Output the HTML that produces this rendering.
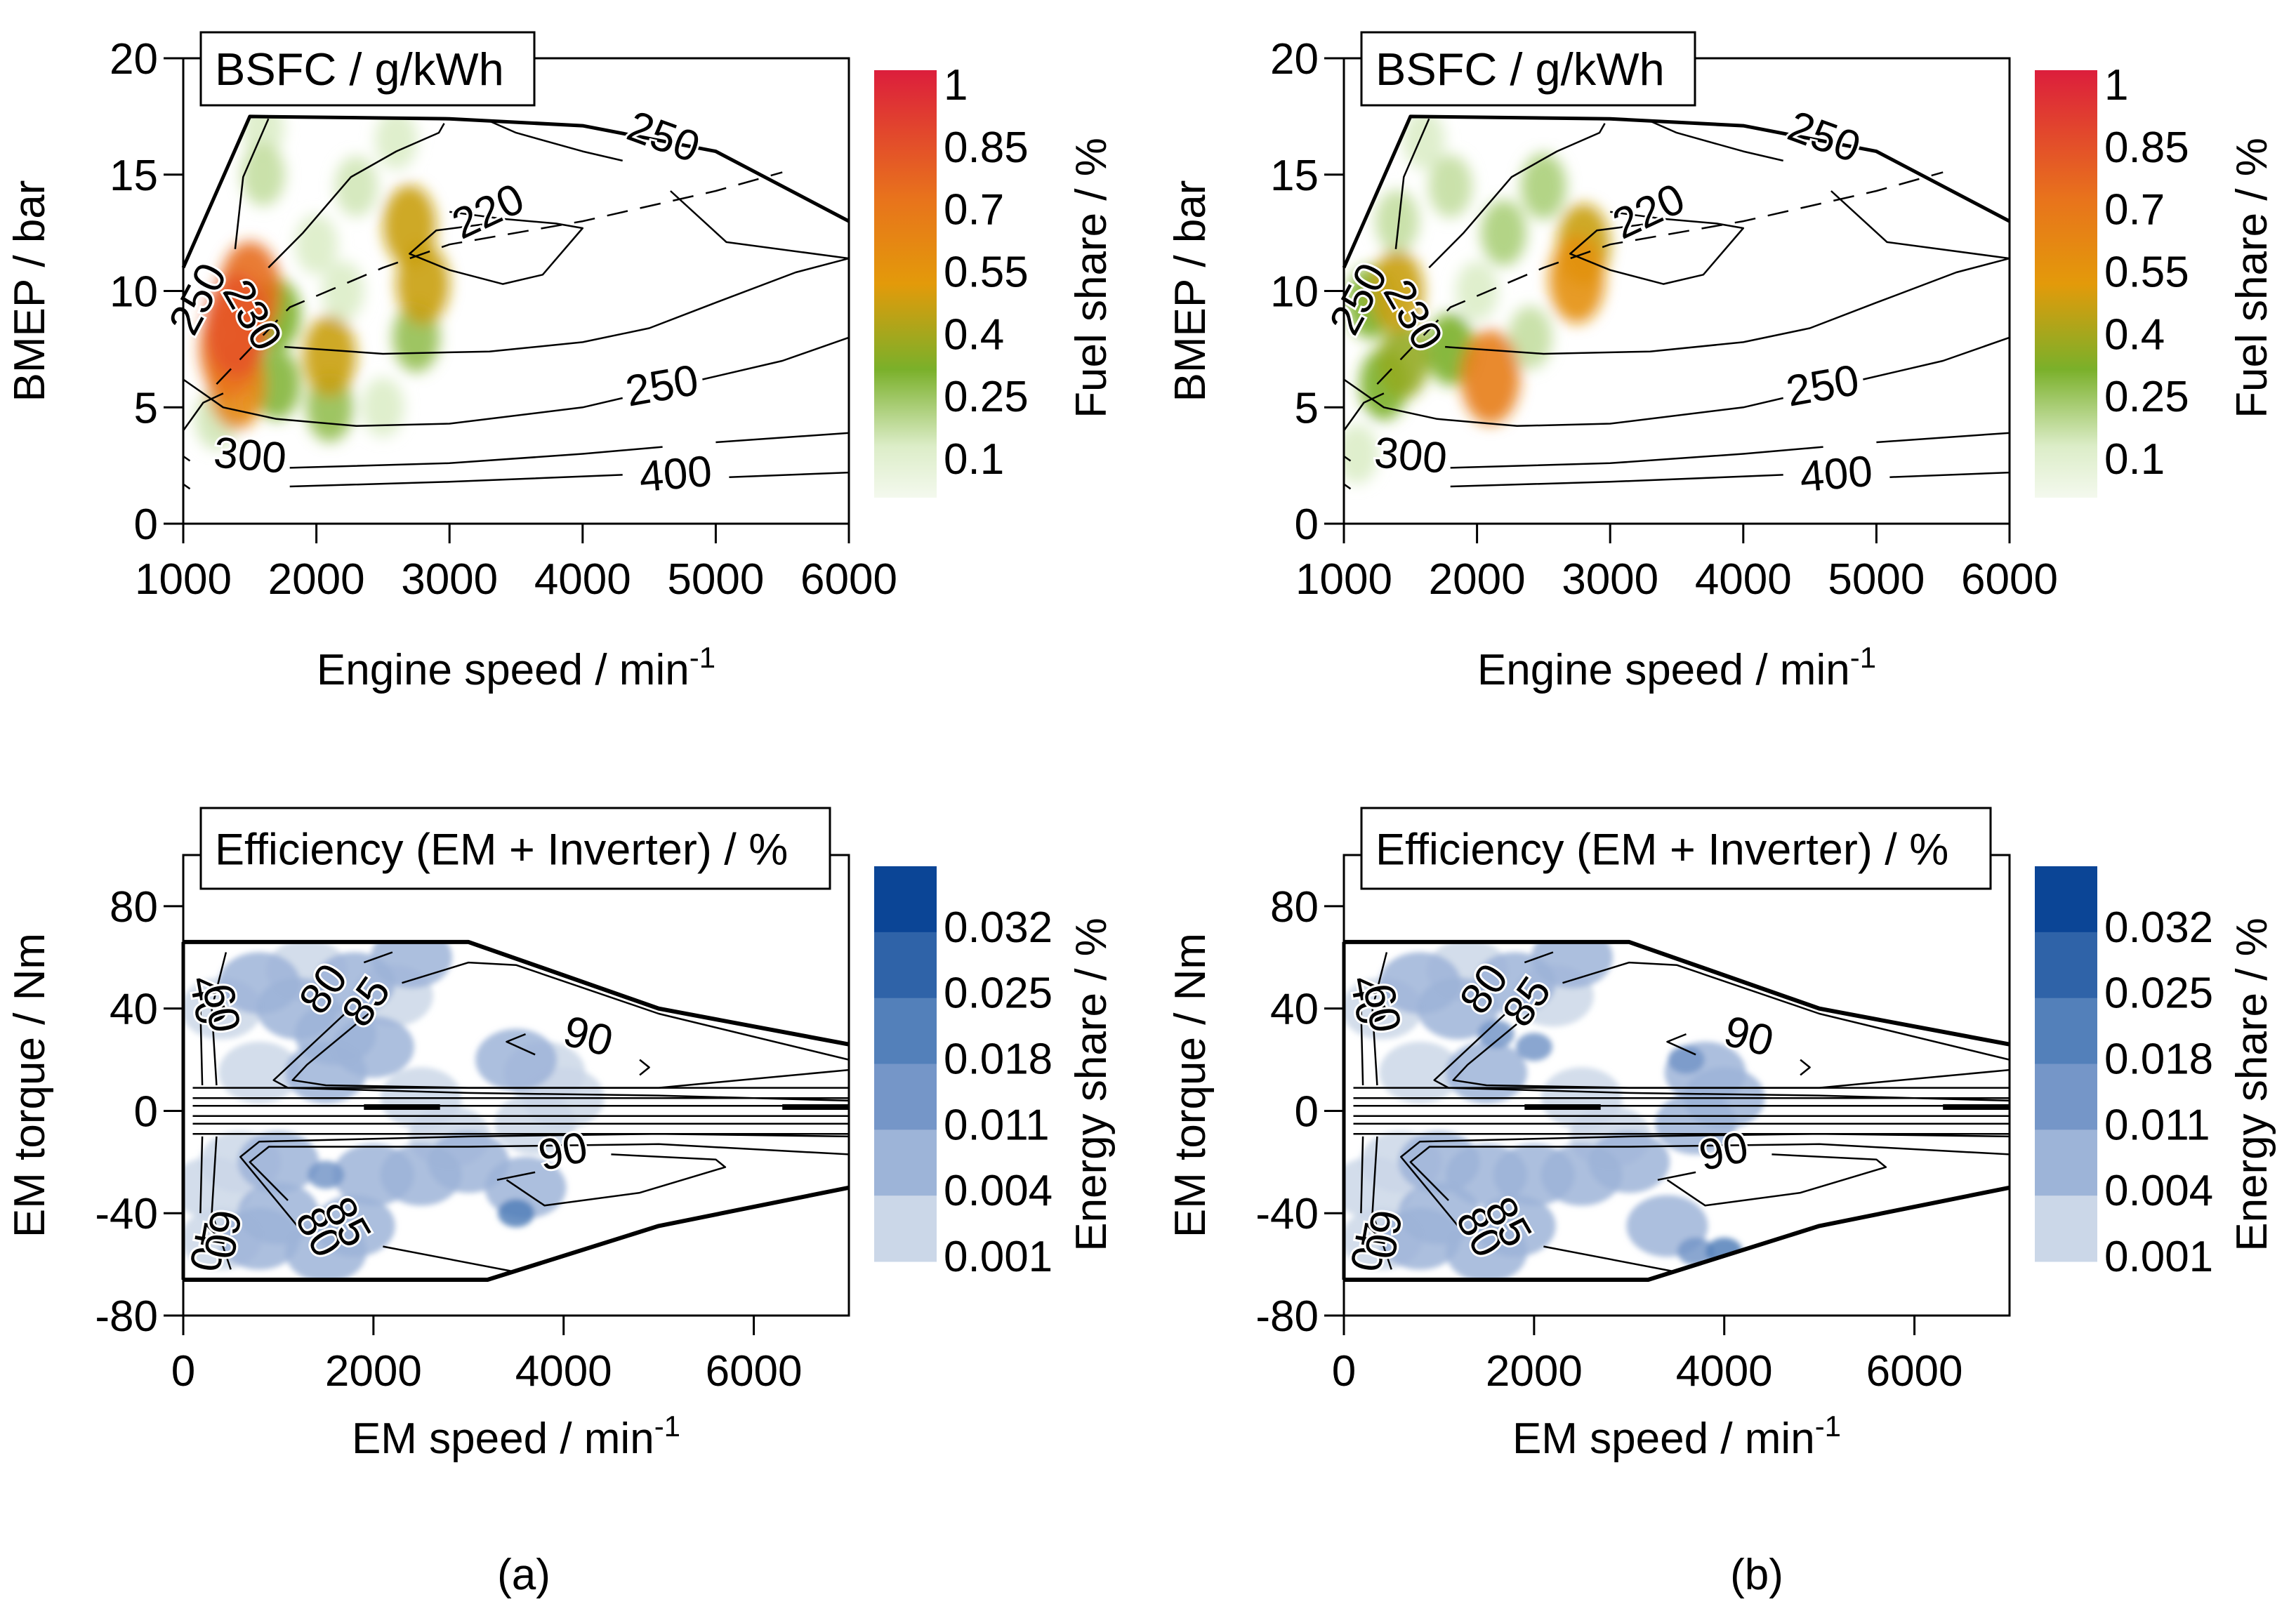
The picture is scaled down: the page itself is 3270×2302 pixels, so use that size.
<!DOCTYPE html>
<html><head><meta charset="utf-8">
<style>
html,body{margin:0;padding:0;background:#fff;}
svg{display:block;font-family:"Liberation Sans",Arial,sans-serif;}
</style></head>
<body>
<svg id="fig" width="3270" height="2302" viewBox="0 0 3270 2302" xmlns="http://www.w3.org/2000/svg">
<defs>
<filter id="blurT" x="-50%" y="-50%" width="200%" height="200%"><feGaussianBlur stdDeviation="10"/></filter>
<filter id="blurB" x="-50%" y="-50%" width="200%" height="200%"><feGaussianBlur stdDeviation="4"/></filter>
<linearGradient id="fuelGrad" x1="0" y1="1" x2="0" y2="0">
<stop offset="0" stop-color="#f4f9ee"/><stop offset="0.12" stop-color="#dcedc8"/><stop offset="0.3" stop-color="#7ab02a"/><stop offset="0.5" stop-color="#e39a0a"/><stop offset="0.7" stop-color="#e8731c"/><stop offset="1" stop-color="#dc1e3c"/>
</linearGradient>
</defs>
<g id="root"></g>
<text x="746" y="2264" font-size="62" text-anchor="middle">(a)</text>
<text x="2502" y="2264" font-size="62" text-anchor="middle">(b)</text>
</svg>
<script>
const NS="http://www.w3.org/2000/svg";
// ---- data ----
const bsfcXTicks=[1000,2000,3000,4000,5000,6000];
const bsfcYTicks=[0,5,10,15,20];
const fuelTicks=[1,0.85,0.7,0.55,0.4,0.25,0.1];
const emXTicks=[0,2000,4000,6000];
const emYTicks=[80,40,0,-40,-80];
const energyTicks=[0.032,0.025,0.018,0.011,0.004,0.001];
const fullLoad=[[1000,11],[1500,17.5],[3000,17.4],[4000,17.1],[5000,16],[6000,13]];
const c250low=[[1000,6.2],[1300,5.0],[1700,4.5],[2300,4.2],[3000,4.3],[4000,5.0],[4300,5.4]];
const c250lowR=[[4900,6.2],[5500,7.0],[6000,8.0]];
const c250up=[[1390,11.8],[1450,14.9],[1640,17.4]];
const c250top=[[3300,17.3],[3500,16.8],[4000,16.0],[4300,15.6]];
const c230=[[1760,7.6],[2500,7.3],[3300,7.4],[4000,7.8],[4500,8.4],[5000,9.5],[5600,10.8],[6000,11.4]];
const c230up=[[1640,11],[1900,12.5],[2260,14.9],[2600,16],[2920,16.8],[2960,17.2]];
const c230b=[[4660,14.3],[5080,12.1],[6000,11.4]];
const c220=[[3000,13.4],[3400,13.1],[3800,12.9],[4000,12.7],[3700,10.7],[3400,10.3],[3000,10.9],[2700,11.6],[2900,12.6],[3300,12.9]];
const dashOpt=[[1250,6],[1800,9.3],[2500,11],[3000,12],[4000,13],[5000,14.3],[5500,15.1]];
const c300=[[1800,2.4],[3000,2.6],[4000,3.0],[4600,3.3]];
const c300r=[[5000,3.5],[6000,3.9]];
const c400=[[1800,1.6],[3000,1.8],[4300,2.1]];
const c400r=[[5100,2.0],[6000,2.2]];
const cLeft=[[1000,4],[1150,5.2],[1300,5.6]];
const cLeft2=[[1000,2.9],[1050,2.7]];
const cLeft3=[[1000,1.7],[1050,1.5]];
const fuelBlobsA=[[1400,8.5,0.8],[1400,6,0.6],[1500,10,0.72],[1350,7.5,0.7],[1700,9,0.3],[1700,6,0.28],[2100,7.2,0.45],[2100,5.0,0.25],[1600,15,0.15],[2300,14.5,0.12],[2700,12.8,0.45],[2800,10.3,0.45],[2750,8,0.25],[2600,16.5,0.1],[2200,10,0.1],[1600,17,0.1],[1250,4.5,0.12],[2500,5,0.1],[2000,12,0.1]];
const fuelBlobsB=[[1300,6,0.3],[1400,10,0.45],[1450,7,0.35],[1200,9.5,0.3],[2100,6.3,0.65],[1800,7.5,0.3],[2750,10.5,0.55],[2800,12,0.45],[2200,12.5,0.2],[2500,14.5,0.2],[1800,14.5,0.15],[1100,3,0.1],[1400,13,0.15],[1600,16.5,0.1],[2400,8,0.15],[2000,10,0.1]];
const emBoundTop=[[0,66],[3000,66],[5000,40],[7000,26]];
const emBoundBot=[[0,-66],[3200,-66],[5000,-45],[7000,-30]];
const e85top=[[1950,38],[1300,18],[1150,12],[1500,10],[3000,9],[5000,9],[7000,16]];
const e85topUp=[[2300,50],[3000,58],[3500,57],[5000,38],[7000,20]];
const e80top=[[1700,38],[950,12],[1100,9],[3000,7],[5000,6],[7000,4]];
const e80topUp=[[1900,58],[2200,62]];
const e90top=[[3600,30],[3400,27],[3700,22]];
const e90top2=[[4800,20],[4900,17],[4800,14]];
const e85bot=[[1100,-35],[700,-20],[900,-14],[3000,-14],[5000,-13],[7000,-17]];
const e80bot=[[1200,-45],[600,-18],[800,-12],[3000,-10],[5000,-9],[7000,-10]];
const e85botLow=[[2100,-53],[3500,-63]];
const e90bot=[[3400,-27],[3800,-37],[4800,-32],[5700,-22],[5600,-19],[4500,-17]];
const e90bot2=[[3300,-27],[3700,-24]];
const e60=[[350,10],[300,40],[450,62]];
const e60b=[[350,-10],[300,-40],[500,-62]];
const e40=[[200,10],[180,40]];
const e40b=[[200,-10],[180,-40]];
const zeroLines=[2,-2,5,-5,9,-9];
const energyBlobsA=[[400,40,1],[800,50,2],[1200,40,2],[1600,30,2],[1800,50,2],[2200,45,1],[1500,15,2],[800,15,1],[3500,20,2],[3800,15,1],[4000,5,1],[3700,-5,1],[1000,-20,2],[1500,-25,3],[2000,-25,2],[2500,-25,2],[3000,-20,2],[3600,-30,2],[3500,-40,4],[400,-50,1],[800,-50,2],[1500,-55,2],[1000,-40,2],[600,-20,1],[2800,-10,1],[2500,5,1],[2000,25,2],[1300,55,1],[2400,60,2],[300,-30,1],[1800,-45,2]];
const energyBlobsB=[[400,40,1],[800,50,2],[1200,40,2],[1600,30,3],[1800,50,2],[2200,45,1],[1500,15,2],[800,15,1],[3600,20,3],[3800,15,2],[4000,5,2],[3700,-5,2],[1000,-20,2],[1500,-25,2],[2000,-25,2],[2500,-25,2],[3000,-20,2],[3400,-45,2],[4000,-55,4],[3700,-55,3],[400,-50,1],[800,-50,2],[1500,-55,2],[1000,-40,2],[600,-20,1],[2800,-10,1],[2500,5,1],[2000,25,3],[1300,55,1],[2400,60,2],[300,-30,1],[1800,-45,2]];
const blueLevels=["#ffffff","#cbd7e8","#9db4d8","#7596c8","#5380ba","#2f63a8","#0b4596"];

const FS=62;
const root=document.getElementById('root');
function el(tag,attrs,parent){const e=document.createElementNS(NS,tag);for(const k in attrs)e.setAttribute(k,attrs[k]);(parent||root).appendChild(e);return e;}
function lerp(a,b,t){return a+(b-a)*t;}
function fuelColor(v){
  const stops=[[0,[255,255,255]],[0.1,[220,237,200]],[0.3,[122,176,42]],[0.5,[227,154,10]],[0.7,[232,115,28]],[1,[220,30,60]]];
  for(let i=1;i<stops.length;i++){if(v<=stops[i][0]){const t=(v-stops[i-1][0])/(stops[i][0]-stops[i-1][0]);const a=stops[i-1][1],b=stops[i][1];return `rgb(${Math.round(lerp(a[0],b[0],t))},${Math.round(lerp(a[1],b[1],t))},${Math.round(lerp(a[2],b[2],t))})`;}}
  return "rgb(220,30,60)";
}

function makeAxes(g,P,xt,yt,xtitle,ytitle){
  el('rect',{x:P.L,y:P.T,width:P.R-P.L,height:P.B-P.T,fill:'none',stroke:'#000','stroke-width':3,},g);
  xt.forEach(v=>{const x=P.sx(v);
    el('line',{x1:x,y1:P.B,x2:x,y2:P.B+28,stroke:'#000','stroke-width':3,},g);
    const t=el('text',{x:x,y:P.B+100,'font-size':FS,'text-anchor':'middle',},g);t.textContent=v;});
  yt.forEach(v=>{const y=P.sy(v);
    el('line',{x1:P.L-28,y1:y,x2:P.L,y2:y,stroke:'#000','stroke-width':3,},g);
    const t=el('text',{x:P.L-36,y:y+22,'font-size':FS,'text-anchor':'end',},g);t.textContent=v;});
  const xtl=el('text',{x:(P.L+P.R)/2,y:P.xTitleY,'font-size':FS,'text-anchor':'middle',},g);
  xtl.innerHTML=xtitle+'<tspan dy="-24" font-size="42">-1</tspan>';
  const ytl=el('text',{x:0,y:0,'font-size':FS,'text-anchor':'middle',transform:`translate(${P.L-198},${(P.T+P.B)/2}) rotate(-90)`,},g);
  ytl.textContent=ytitle;
}
function line(g,P,pts,opts,name){
  const d=pts.map((p,i)=>(i?'L':'M')+P.sx(p[0]).toFixed(1)+','+P.sy(p[1]).toFixed(1)).join(' ');
  const e=el('path',Object.assign({d:d,fill:'none',stroke:'#000','stroke-width':2.5,'stroke-linejoin':'round'},opts||{}),g);
  
  
  return e;
}
function clabel(g,P,x,y,txt,rot){
  const t=el('text',{x:0,y:0,'font-size':FS,'text-anchor':'middle',transform:`translate(${P.sx(x)},${P.sy(y)}) rotate(${rot})`,fill:'#000',stroke:'#fff','stroke-width':6,'paint-order':'stroke','dominant-baseline':'middle'},g);
  
  
  t.textContent=txt;
}
function legendBox(g,x,y,w,h,txt,fs){
  el('rect',{x:x,y:y,width:w,height:h,fill:'#fff',stroke:'#000','stroke-width':3,},g);
  const t=el('text',{x:x+20,y:y+h/2+23,'font-size':fs,},g);t.textContent=txt;
}

function bsfcPanel(ox,blobs,tag){
  const g=el('g',{});
  const P={L:261+ox,R:1209+ox,T:83,B:746,xTitleY:975};
  P.sx=v=>P.L+(v-1000)/5000*(P.R-P.L);
  P.sy=v=>P.B-(v)/20*(P.B-P.T);
  const cp=el('clipPath',{id:'clipT'+tag},g);
  const poly=fullLoad.concat([[6000,0],[1000,0]]);
  el('polygon',{points:poly.map(p=>P.sx(p[0])+','+P.sy(p[1])).join(' ')},cp);
  const hb=el('g',{'clip-path':`url(#clipT${tag})`,filter:'url(#blurT)',},g);
  blobs.slice().sort((a,b)=>a[2]-b[2]).forEach(b=>{
    const e=el('ellipse',{cx:P.sx(b[0]),cy:P.sy(b[1]),rx:28+b[2]*22,ry:38+b[2]*45,fill:fuelColor(b[2]),opacity:0.9},hb);
    
    
  });
  line(g,P,fullLoad,{'stroke-width':5},'full-load-curve');
  [c250low,c250lowR,c250up,c250top,c230,c230up,c230b,c220,c300,c300r,c400,c400r,cLeft,cLeft2,cLeft3].forEach(c=>line(g,P,c));
  line(g,P,dashOpt,{'stroke-dasharray':'30,18'},'optimal-operating-line');
  clabel(g,P,1130,9.6,'250',-62);clabel(g,P,1500,8.9,'230',60);clabel(g,P,3300,13.3,'220',-25);
  clabel(g,P,4600,16.5,'250',20);clabel(g,P,4600,5.8,'250',-10);clabel(g,P,1500,2.8,'300',5);clabel(g,P,4700,2.0,'400',-5);
  makeAxes(g,P,bsfcXTicks,bsfcYTicks,'Engine speed / min','BMEP / bar');
  legendBox(g,286+ox,46,475,104,'BSFC / g/kWh',65);
  const cb={L:1245+ox,R:1334+ox,T:100,B:709};
  el('rect',{x:cb.L,y:cb.T,width:cb.R-cb.L,height:cb.B-cb.T,fill:'url(#fuelGrad)',},g);
  fuelTicks.forEach(v=>{const y=lerp(cb.B-56, cb.T+20,(v-0.1)/0.9);
    const t=el('text',{x:cb.R+10,y:y+22,'font-size':FS,},g);t.textContent=v;});
  const ct=el('text',{x:0,y:0,'font-size':FS,'text-anchor':'middle',transform:`translate(${1575+ox},396) rotate(-90)`,},g);ct.textContent='Fuel share / %';
}

function emPanel(ox,blobs,tag){
  const g=el('g',{});
  const P={L:261+ox,R:1209+ox,T:1218,B:1874,xTitleY:2070};
  P.sx=v=>P.L+v/7000*(P.R-P.L);
  P.sy=v=>P.B-(v+80)/180*(P.B-P.T);
  const cp=el('clipPath',{id:'clipB'+tag},g);
  const poly=emBoundTop.concat(emBoundBot.slice().reverse());
  el('polygon',{points:poly.map(p=>P.sx(p[0])+','+P.sy(p[1])).join(' ')},cp);
  const hb=el('g',{'clip-path':`url(#clipB${tag})`,filter:'url(#blurB)',},g);
  blobs.slice().sort((a,b)=>a[2]-b[2]).forEach(b=>{
    const e=el('ellipse',{cx:P.sx(b[0]),cy:P.sy(b[1]),rx:b[2]>=3?26:58,ry:b[2]>=3?20:44,fill:blueLevels[b[2]],opacity:0.85},hb);
    
    
  });
  line(g,P,emBoundTop,{'stroke-width':6},'torque-limit-motor');
  line(g,P,emBoundBot,{'stroke-width':6},'torque-limit-generator');
  line(g,P,[[0,66],[0,-66]],{'stroke-width':5},'left-boundary');
  [e85top,e85topUp,e80top,e80topUp,e90top,e90top2,e85bot,e80bot,e85botLow,e90bot,e90bot2,e60,e60b,e40,e40b].forEach(c=>line(g,P,c));
  zeroLines.forEach(z=>line(g,P,[[100,z],[7000,z]],{'stroke-width':2.5},'near-zero-contour'));
  line(g,P,[[1900,1.5],[2700,1.5]],{'stroke-width':8},'near-zero-contour');
  line(g,P,[[6300,1.5],[7000,1.5]],{'stroke-width':8},'near-zero-contour');
  clabel(g,P,230,43,'40',80);clabel(g,P,370,40,'60',80);clabel(g,P,1500,47,'80',-55);clabel(g,P,1950,42,'85',-55);
  clabel(g,P,4250,28,'90',15);clabel(g,P,4000,-17,'90',-12);
  clabel(g,P,230,-53,'40',100);clabel(g,P,380,-48,'60',100);clabel(g,P,1400,-48,'80',60);clabel(g,P,1700,-44,'85',60);
  makeAxes(g,P,emXTicks,emYTicks,'EM speed / min','EM torque / Nm');
  legendBox(g,286+ox,1151,896,115,'Efficiency (EM + Inverter) / %',63);
  const cb={L:1245+ox,R:1334+ox,T:1234,B:1797};
  const bh=(cb.B-cb.T)/6;
  for(let i=0;i<6;i++){
    const r=el('rect',{x:cb.L,y:cb.T+i*bh,width:cb.R-cb.L,height:bh+0.5,fill:blueLevels[6-i]},g);
    
    
  }
  energyTicks.forEach((v,i)=>{const y=cb.T+(i+1)*bh-8;
    const t=el('text',{x:cb.R+10,y:y+22,'font-size':FS,},g);t.textContent=v;});
  const ct=el('text',{x:0,y:0,'font-size':FS,'text-anchor':'middle',transform:`translate(${1575+ox},1545) rotate(-90)`,},g);ct.textContent='Energy share / %';
}
bsfcPanel(0,fuelBlobsA,'a');
bsfcPanel(1653,fuelBlobsB,'b');
emPanel(0,energyBlobsA,'a');
emPanel(1653,energyBlobsB,'b');
</script>
</body></html>
